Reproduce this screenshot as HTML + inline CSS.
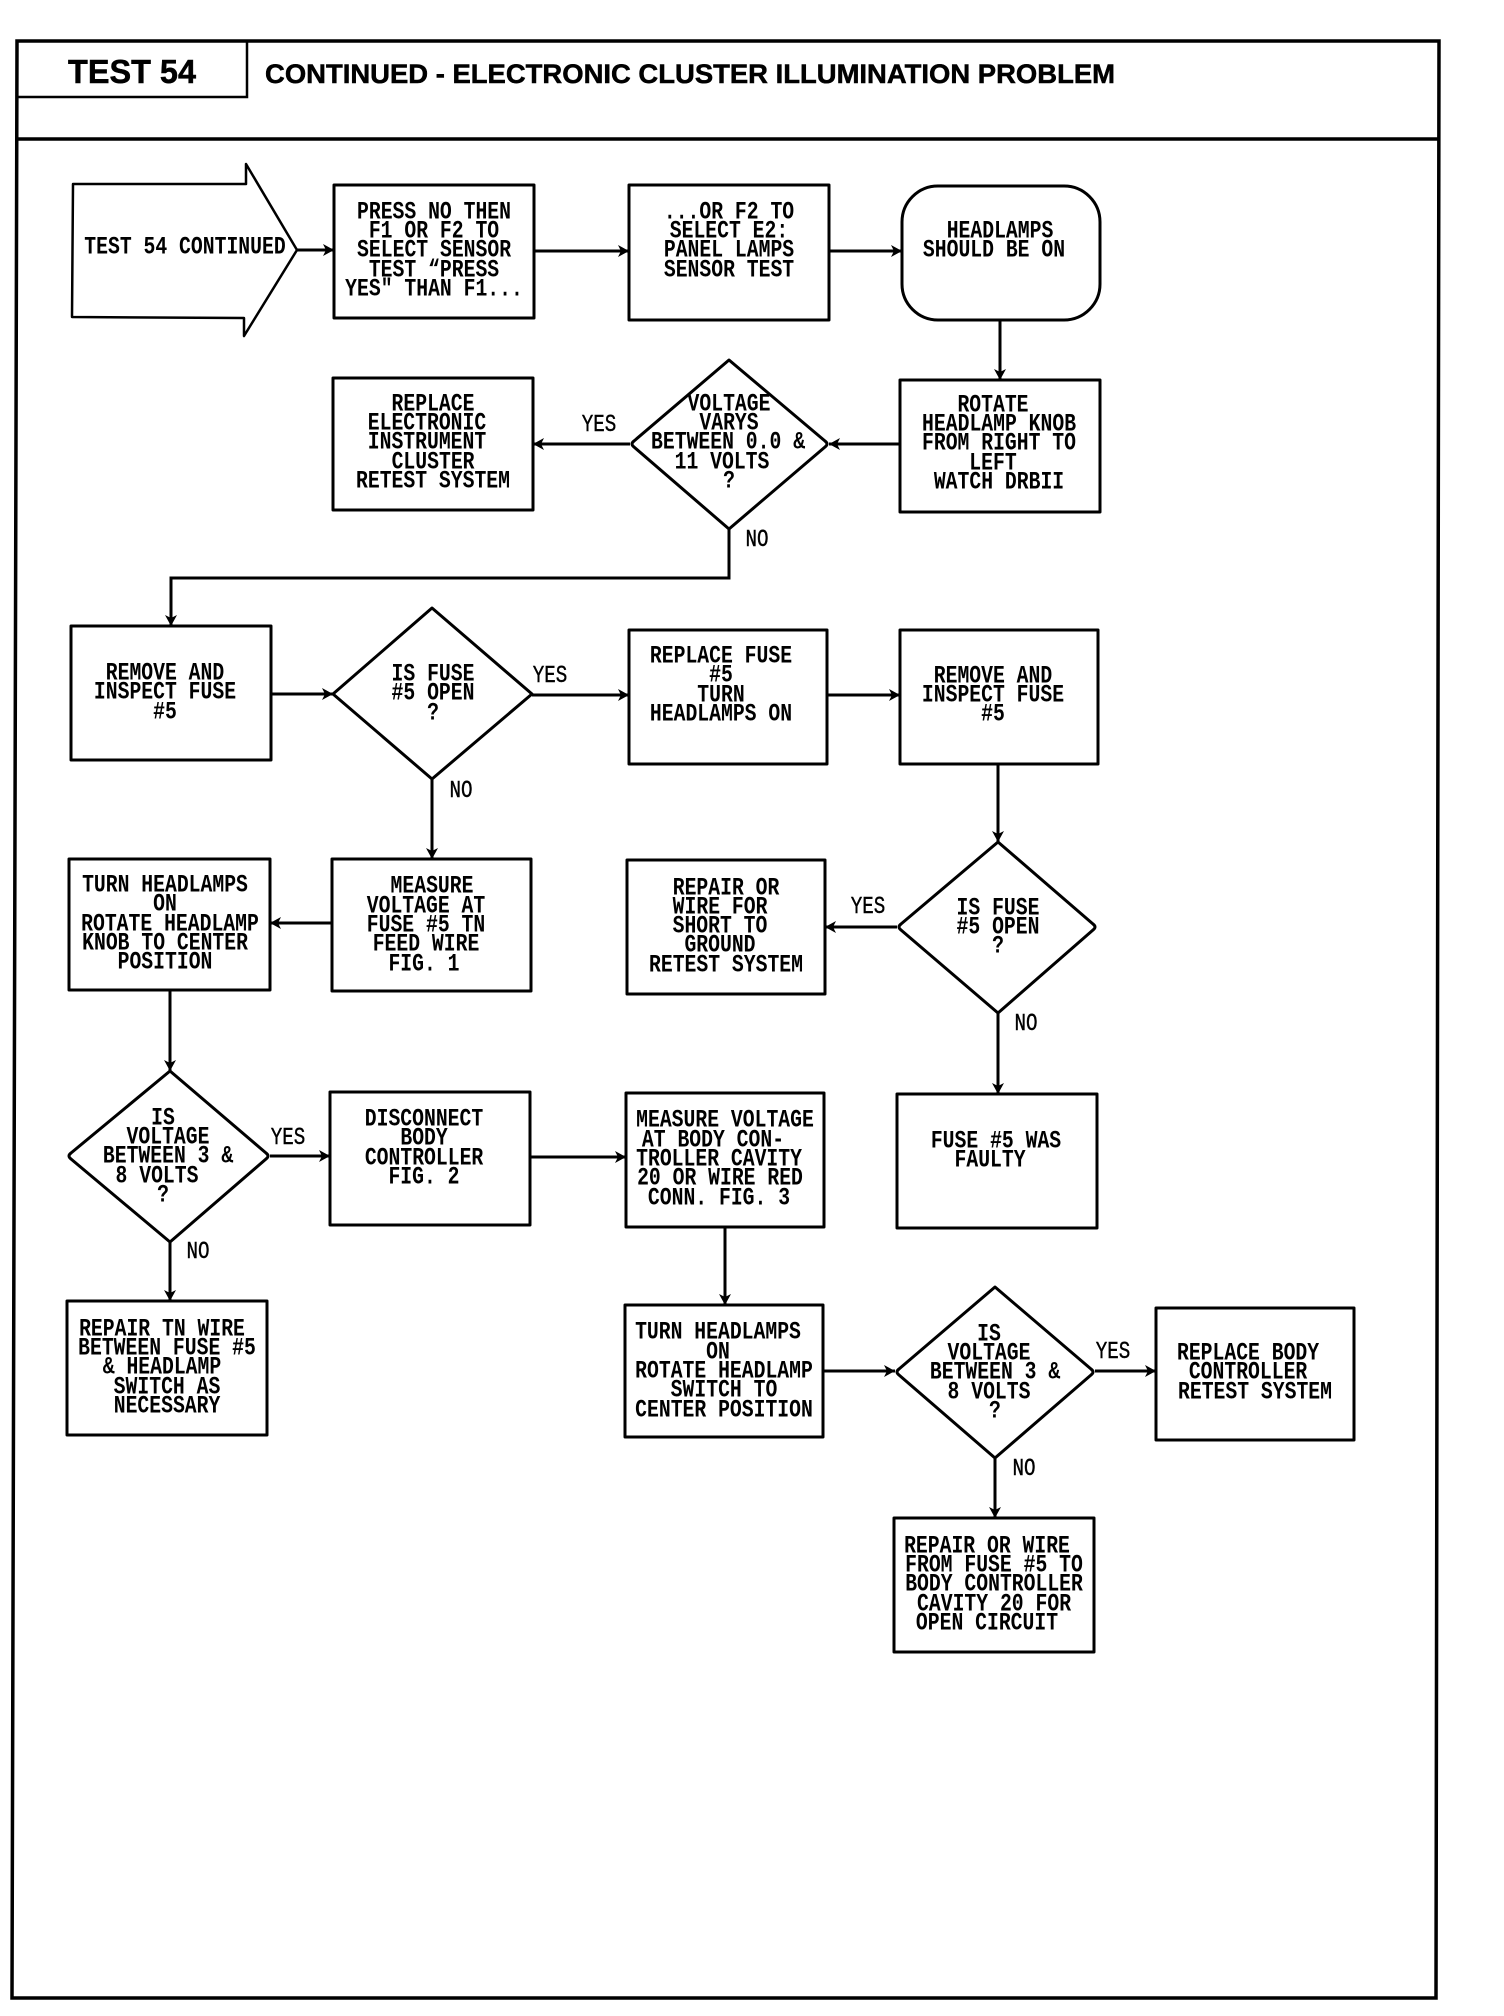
<!DOCTYPE html>
<html>
<head>
<meta charset="utf-8">
<style>
html,body{margin:0;padding:0;background:#fff}
svg{display:block}
.b{fill:#fff;stroke:#000;stroke-width:3;stroke-linejoin:round}
.f{fill:none;stroke:#000;stroke-width:3}
.t{font-family:"Liberation Mono",monospace;font-weight:700;font-size:25px;text-anchor:middle;fill:#000;transform-box:fill-box;transform-origin:center;transform:scaleX(.79)}
.l{font-family:"Liberation Mono",monospace;font-weight:400;font-size:24px;text-anchor:middle;fill:#000;stroke:#000;stroke-width:.4;transform-box:fill-box;transform-origin:center;transform:scaleX(.8)}
.h{font-family:"Liberation Sans",sans-serif;font-weight:700;fill:#000;stroke:#000;stroke-width:.5}
</style>
</head>
<body>
<svg width="1504" height="2016" viewBox="0 0 1504 2016" xmlns="http://www.w3.org/2000/svg">
<defs>
<marker id="a" markerUnits="userSpaceOnUse" markerWidth="14" markerHeight="14" refX="12" refY="7" orient="auto">
<path d="M1 1 L12 7 L1 13 L4 7 Z" fill="#000"/>
</marker>
</defs>
<rect width="1504" height="2016" fill="#fff"/>

<!-- frame -->
<path d="M17 41 L1439 41 L1436 1998 L12 1998 Z" fill="none" stroke="#000" stroke-width="3.5"/>
<path d="M16 139 L1439 139" fill="none" stroke="#000" stroke-width="3.5"/>
<path d="M17 97 L247 97 L247 41" fill="none" stroke="#000" stroke-width="2.5"/>
<text class="h" x="68" y="83" font-size="33" textLength="128" lengthAdjust="spacingAndGlyphs">TEST 54</text>
<text class="h" x="265" y="83" font-size="27" textLength="850" lengthAdjust="spacingAndGlyphs">CONTINUED - ELECTRONIC CLUSTER ILLUMINATION PROBLEM</text>

<!-- connectors -->
<g class="f">
<path class="f" marker-end="url(#a)" d="M297 250H334"/>
<path class="f" marker-end="url(#a)" d="M534 251H629"/>
<path class="f" marker-end="url(#a)" d="M829 251H902"/>
<path class="f" marker-end="url(#a)" d="M1000 320V380"/>
<path class="f" marker-end="url(#a)" d="M900 444H829"/>
<path class="f" marker-end="url(#a)" d="M630 444H533"/>
<path class="f" marker-end="url(#a)" d="M729 529V578H171V626"/>
<path class="f" marker-end="url(#a)" d="M271 694H333"/>
<path class="f" marker-end="url(#a)" d="M532 695H629"/>
<path class="f" marker-end="url(#a)" d="M827 695H900"/>
<path class="f" marker-end="url(#a)" d="M998 764V842"/>
<path class="f" marker-end="url(#a)" d="M897 927H825"/>
<path class="f" marker-end="url(#a)" d="M998 1013V1094"/>
<path class="f" marker-end="url(#a)" d="M432 779V859"/>
<path class="f" marker-end="url(#a)" d="M332 923H270"/>
<path class="f" marker-end="url(#a)" d="M170 990V1071"/>
<path class="f" marker-end="url(#a)" d="M270 1156H330"/>
<path class="f" marker-end="url(#a)" d="M530 1157H626"/>
<path class="f" marker-end="url(#a)" d="M725 1227V1305"/>
<path class="f" marker-end="url(#a)" d="M170 1242V1301"/>
<path class="f" marker-end="url(#a)" d="M823 1371H895"/>
<path class="f" marker-end="url(#a)" d="M1095 1371H1156"/>
<path class="f" marker-end="url(#a)" d="M995 1458V1518"/>
</g>

<!-- shapes -->
<path class="b" style="stroke-width:2.5" d="M73 184 L246 184 L246 164 L297 250 L244 336 L244 318 L72 317 Z"/>
<rect class="b" x="334" y="185" width="200" height="133"/>
<rect class="b" x="629" y="185" width="200" height="135"/>
<rect class="b" x="902" y="186" width="198" height="134" rx="36" ry="36"/>
<rect class="b" x="900" y="380" width="200" height="132"/>
<rect class="b" x="333" y="378" width="200" height="132"/>
<path class="b" d="M729 360 L825 441 Q829 444 825 447 L729 529 L634 447 Q630 444 634 441 Z"/>
<rect class="b" x="71" y="626" width="200" height="134"/>
<path class="b" d="M432 608 L532 694 L432 779 L333 694 Z"/>
<rect class="b" x="629" y="630" width="198" height="134"/>
<rect class="b" x="900" y="630" width="198" height="134"/>
<path class="b" d="M998 842 L1093 924 Q1097 927 1093 930 L998 1013 L901 930 Q897 927 901 924 Z"/>
<rect class="b" x="627" y="860" width="198" height="134"/>
<rect class="b" x="332" y="859" width="199" height="132"/>
<rect class="b" x="69" y="859" width="201" height="131"/>
<path class="b" d="M170 1071 L266 1153 Q270 1156 266 1159 L170 1242 L71 1159 Q67 1156 71 1153 Z"/>
<rect class="b" x="330" y="1092" width="200" height="133"/>
<rect class="b" x="626" y="1093" width="198" height="134"/>
<rect class="b" x="897" y="1094" width="200" height="134"/>
<rect class="b" x="67" y="1301" width="200" height="134"/>
<rect class="b" x="625" y="1305" width="198" height="132"/>
<path class="b" d="M995 1287 L1091 1369 Q1095 1372 1091 1375 L995 1458 L899 1375 Q895 1372 899 1369 Z"/>
<rect class="b" x="1156" y="1308" width="198" height="132"/>
<rect class="b" x="894" y="1518" width="200" height="134"/>

<!-- node text -->
<g transform="translate(0,-1.5)">
<text class="t" x="185" y="255">TEST 54 CONTINUED</text>

<text class="t" x="434" y="220">PRESS NO THEN</text>
<text class="t" x="434" y="239">F1 OR F2 TO</text>
<text class="t" x="434" y="258">SELECT SENSOR</text>
<text class="t" x="434" y="278">TEST “PRESS</text>
<text class="t" x="434" y="297">YES" THAN F1...</text>

<text class="t" x="729" y="220">...OR F2 TO</text>
<text class="t" x="729" y="239">SELECT E2:</text>
<text class="t" x="729" y="258">PANEL LAMPS</text>
<text class="t" x="729" y="278">SENSOR TEST</text>

<text class="t" x="1000" y="239">HEADLAMPS</text>
<text class="t" x="994" y="258">SHOULD BE ON</text>

<text class="t" x="993" y="413">ROTATE</text>
<text class="t" x="999" y="432">HEADLAMP KNOB</text>
<text class="t" x="999" y="451">FROM RIGHT TO</text>
<text class="t" x="993" y="471">LEFT</text>
<text class="t" x="999" y="490">WATCH DRBII</text>

<text class="t" x="433" y="412">REPLACE</text>
<text class="t" x="427" y="431">ELECTRONIC</text>
<text class="t" x="427" y="450">INSTRUMENT</text>
<text class="t" x="433" y="470">CLUSTER</text>
<text class="t" x="433" y="489">RETEST SYSTEM</text>

<text class="t" x="729" y="412">VOLTAGE</text>
<text class="t" x="729" y="431">VARYS</text>
<text class="t" x="728" y="450">BETWEEN 0.0 &amp;</text>
<text class="t" x="722" y="470">11 VOLTS</text>
<text class="t" x="729" y="489">?</text>

<text class="t" x="165" y="681">REMOVE AND</text>
<text class="t" x="165" y="700">INSPECT FUSE</text>
<text class="t" x="165" y="720">#5</text>

<text class="t" x="433" y="682">IS FUSE</text>
<text class="t" x="433" y="701">#5 OPEN</text>
<text class="t" x="433" y="721">?</text>

<text class="t" x="721" y="664">REPLACE FUSE</text>
<text class="t" x="721" y="683">#5</text>
<text class="t" x="721" y="703">TURN</text>
<text class="t" x="721" y="722">HEADLAMPS ON</text>

<text class="t" x="993" y="684">REMOVE AND</text>
<text class="t" x="993" y="703">INSPECT FUSE</text>
<text class="t" x="993" y="722">#5</text>

<text class="t" x="998" y="916">IS FUSE</text>
<text class="t" x="998" y="935">#5 OPEN</text>
<text class="t" x="998" y="954">?</text>

<text class="t" x="726" y="896">REPAIR OR</text>
<text class="t" x="720" y="915">WIRE FOR</text>
<text class="t" x="720" y="934">SHORT TO</text>
<text class="t" x="720" y="953">GROUND</text>
<text class="t" x="726" y="973">RETEST SYSTEM</text>

<text class="t" x="432" y="894">MEASURE</text>
<text class="t" x="426" y="914">VOLTAGE AT</text>
<text class="t" x="426" y="933">FUSE #5 TN</text>
<text class="t" x="426" y="952">FEED WIRE</text>
<text class="t" x="424" y="972">FIG. 1</text>

<text class="t" x="165" y="893">TURN HEADLAMPS</text>
<text class="t" x="165" y="912">ON</text>
<text class="t" x="170" y="932">ROTATE HEADLAMP</text>
<text class="t" x="165" y="951">KNOB TO CENTER</text>
<text class="t" x="165" y="970">POSITION</text>

<text class="t" x="163" y="1126">IS</text>
<text class="t" x="168" y="1145">VOLTAGE</text>
<text class="t" x="168" y="1164">BETWEEN 3 &amp;</text>
<text class="t" x="157" y="1184">8 VOLTS</text>
<text class="t" x="163" y="1203">?</text>

<text class="t" x="424" y="1127">DISCONNECT</text>
<text class="t" x="424" y="1146">BODY</text>
<text class="t" x="424" y="1166">CONTROLLER</text>
<text class="t" x="424" y="1185">FIG. 2</text>

<text class="t" x="725" y="1128">MEASURE VOLTAGE</text>
<text class="t" x="713" y="1148">AT BODY CON-</text>
<text class="t" x="719" y="1167">TROLLER CAVITY</text>
<text class="t" x="720" y="1186">20 OR WIRE RED</text>
<text class="t" x="719" y="1206">CONN. FIG. 3</text>

<text class="t" x="996" y="1149">FUSE #5 WAS</text>
<text class="t" x="990" y="1168">FAULTY</text>

<text class="t" x="162" y="1337">REPAIR TN WIRE</text>
<text class="t" x="167" y="1356">BETWEEN FUSE #5</text>
<text class="t" x="162" y="1375">&amp; HEADLAMP</text>
<text class="t" x="167" y="1395">SWITCH AS</text>
<text class="t" x="167" y="1414">NECESSARY</text>

<text class="t" x="718" y="1340">TURN HEADLAMPS</text>
<text class="t" x="718" y="1360">ON</text>
<text class="t" x="724" y="1379">ROTATE HEADLAMP</text>
<text class="t" x="724" y="1398">SWITCH TO</text>
<text class="t" x="724" y="1418">CENTER POSITION</text>

<text class="t" x="989" y="1342">IS</text>
<text class="t" x="989" y="1361">VOLTAGE</text>
<text class="t" x="995" y="1380">BETWEEN 3 &amp;</text>
<text class="t" x="989" y="1400">8 VOLTS</text>
<text class="t" x="995" y="1419">?</text>

<text class="t" x="1248" y="1361">REPLACE BODY</text>
<text class="t" x="1248" y="1380">CONTROLLER</text>
<text class="t" x="1255" y="1400">RETEST SYSTEM</text>

<text class="t" x="987" y="1554">REPAIR OR WIRE</text>
<text class="t" x="994" y="1573">FROM FUSE #5 TO</text>
<text class="t" x="994" y="1592">BODY CONTROLLER</text>
<text class="t" x="994" y="1612">CAVITY 20 FOR</text>
<text class="t" x="987" y="1631">OPEN CIRCUIT</text>
</g>

<!-- connector labels -->
<text class="l" x="599" y="431">YES</text>
<text class="l" x="757" y="546">NO</text>
<text class="l" x="550" y="682">YES</text>
<text class="l" x="461" y="797">NO</text>
<text class="l" x="868" y="913">YES</text>
<text class="l" x="1026" y="1030">NO</text>
<text class="l" x="288" y="1144">YES</text>
<text class="l" x="198" y="1258">NO</text>
<text class="l" x="1113" y="1358">YES</text>
<text class="l" x="1024" y="1475">NO</text>
</svg>
</body>
</html>
